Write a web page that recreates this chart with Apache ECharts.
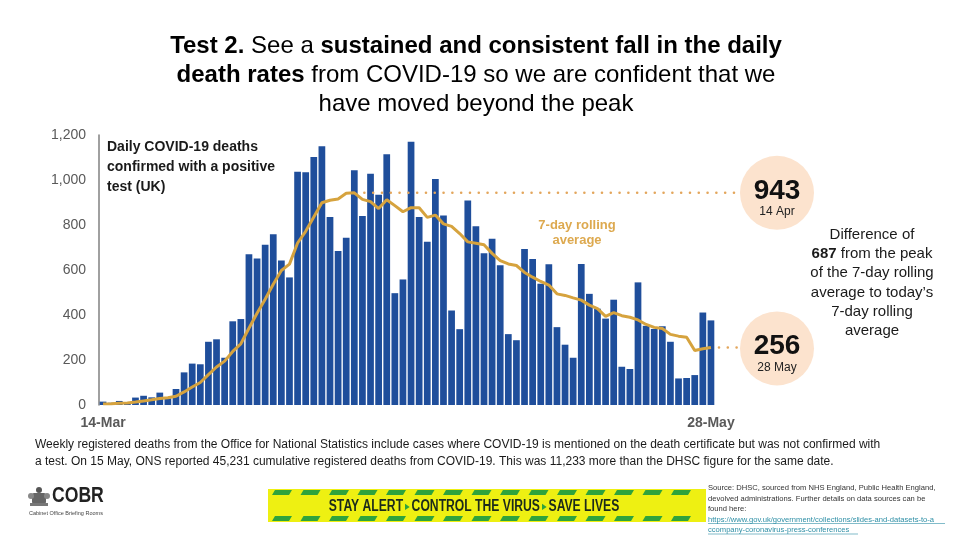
<!DOCTYPE html>
<html><head><meta charset="utf-8">
<script src="https://cdn.jsdelivr.net/npm/echarts@6/dist/echarts.min.js"></script>
<style>html,body{margin:0;padding:0;background:#fff}#c{width:960px;height:540px}</style>
</head><body><div id="c"></div>
<script>
const dates = ['14-Mar','15-Mar','16-Mar','17-Mar','18-Mar','19-Mar','20-Mar','21-Mar','22-Mar','23-Mar','24-Mar','25-Mar','26-Mar','27-Mar','28-Mar','29-Mar','30-Mar','31-Mar',
'1-Apr','2-Apr','3-Apr','4-Apr','5-Apr','6-Apr','7-Apr','8-Apr','9-Apr','10-Apr','11-Apr','12-Apr','13-Apr','14-Apr','15-Apr','16-Apr','17-Apr','18-Apr','19-Apr','20-Apr','21-Apr','22-Apr','23-Apr','24-Apr','25-Apr','26-Apr','27-Apr','28-Apr','29-Apr','30-Apr',
'1-May','2-May','3-May','4-May','5-May','6-May','7-May','8-May','9-May','10-May','11-May','12-May','13-May','14-May','15-May','16-May','17-May','18-May','19-May','20-May','21-May','22-May','23-May','24-May','25-May','26-May','27-May','28-May'];
const dailyDeaths = [15,10,18,10,33,41,34,55,30,71,145,184,181,281,292,210,372,382,
670,651,712,759,642,567,1037,1034,1102,1150,836,685,743,1043,840,1028,934,1114,497,558,1170,836,726,1004,842,420,337,909,795,674,
739,621,315,288,693,649,539,626,346,268,210,627,494,428,384,468,170,160,545,352,338,350,281,118,120,133,411,376];
const rollingAvg = [5,6,8,9,13,18,23,29,32,39,58,80,100,135,169,195,238,272,
341,408,470,537,598,626,720,772,836,899,910,916,941,943,914,904,873,912,886,859,877,877,834,844,805,794,762,725,719,712,
674,642,627,620,589,568,549,533,494,487,476,466,444,428,394,411,397,390,378,358,345,340,314,306,301,242,250,256];
const xTickLabels = ['14-Mar','28-May'];
const peakDate = '14-Apr', peakLabel = '14 Apr', latestLabel = '28 May';
const difference = 687;

const BLUE = '#1F4E9B', GOLD = '#D6A33E', DOT = '#E3A65C', PEACH = '#FCE3CE';
const chart = echarts.init(document.getElementById('c'), null, {renderer:'canvas'});
chart.setOption({
  animation:false,
  backgroundColor:'#fff',
  textStyle:{fontFamily:'Liberation Sans, Arial, sans-serif'},
  grid:{left:99, right:245, top:135, bottom:135, containLabel:false},
  xAxis:{type:'category', data:dates, boundaryGap:true,
    axisLine:{show:false}, axisTick:{show:false},
    axisLabel:{interval:0, margin:11, fontSize:14, fontWeight:'bold', color:'#595959',
      formatter:v => xTickLabels.includes(v) ? v : ''}},
  yAxis:{type:'value', min:0, max:1200, interval:200,
    axisLine:{show:true, lineStyle:{color:'#808080', width:1.5}}, axisTick:{show:false},
    splitLine:{show:false},
    axisLabel:{margin:13, fontSize:14, color:'#595959',
      formatter:v => v.toLocaleString('en-GB')}},
  series:[
    {type:'bar', data:dailyDeaths, barCategoryGap:'17%', itemStyle:{color:BLUE}, z:2},
    {type:'line', data:rollingAvg, symbol:'none', smooth:false, z:3,
     lineStyle:{color:GOLD, width:3}}
  ]
});

const pi = dates.indexOf(peakDate), li = dates.length - 1;
const pk = chart.convertToPixel({seriesIndex:1}, [pi, rollingAvg[pi]]);
const lt = chart.convertToPixel({seriesIndex:1}, [li, rollingAvg[li]]);
const CX = 777, R = 37;

const g = [];
// title
g.push({type:'text', x:476, y:32, style:{
  text:'{b|Test 2.} See a {b|sustained and consistent fall in the daily}\n{b|death rates} from COVID-19 so we are confident that we\nhave moved beyond the peak',
  align:'center', fill:'#000', font:'24px "Liberation Sans", Arial, sans-serif', lineHeight:29,
  rich:{b:{fontWeight:'bold', fontSize:24, fontFamily:'Liberation Sans', lineHeight:29, fill:'#000'}}}});
// chart annotation
g.push({type:'text', x:107, y:137, style:{text:'Daily COVID-19 deaths\nconfirmed with a positive\ntest (UK)',
  font:'bold 14px "Liberation Sans", Arial', lineHeight:20, fill:'#1a1a1a'}});
g.push({type:'text', x:577, y:218, style:{text:'7-day rolling\naverage', align:'center',
  font:'bold 13px "Liberation Sans", Arial', lineHeight:15, fill:'#DDA94F'}});
// dotted leaders
g.push({type:'line', shape:{x1:pk[0]+10, y1:pk[1], x2:CX-R-2, y2:pk[1]},
  style:{stroke:DOT, lineWidth:2.5, lineDash:[0.1,8.7], lineCap:'round'}, z:10});
g.push({type:'line', shape:{x1:lt[0]+8, y1:lt[1], x2:CX-R-2, y2:lt[1]},
  style:{stroke:DOT, lineWidth:2.5, lineDash:[0.1,8.7], lineCap:'round'}, z:10});
// circles
[[pk[1], String(rollingAvg[pi]), peakLabel],[lt[1]+1, String(rollingAvg[li]), latestLabel]].forEach(([cy,num,lab])=>{
  g.push({type:'circle', shape:{cx:CX, cy:cy, r:R}, style:{fill:PEACH}, z:10});
  g.push({type:'text', x:CX, y:cy-2, style:{text:num, align:'center', verticalAlign:'middle',
    font:'bold 28px "Liberation Sans", Arial', fill:'#111'}, z:11});
  g.push({type:'text', x:CX, y:cy+19, style:{text:lab, align:'center', verticalAlign:'middle',
    font:'12px "Liberation Sans", Arial', fill:'#222'}, z:11});
});
// right text
g.push({type:'text', x:872, y:225, style:{
  text:'Difference of\n{b|'+difference+'} from the peak\nof the 7-day rolling\naverage to today\u2019s\n7-day rolling\naverage',
  align:'center', font:'15px "Liberation Sans", Arial', lineHeight:19.3, fill:'#1a1a1a',
  rich:{b:{fontWeight:'bold', fontSize:15, fontFamily:'Liberation Sans', lineHeight:19.3, fill:'#1a1a1a'}}}});
// footnote
g.push({type:'text', x:35, y:436, style:{
  text:'Weekly registered deaths from the Office for National Statistics include cases where COVID-19 is mentioned on the death certificate but was not confirmed with\na test. On 15 May, ONS reported 45,231 cumulative registered deaths from COVID-19. This was 11,233 more than the DHSC figure for the same date.',
  font:'12px "Liberation Sans", Arial', lineHeight:17, fill:'#1a1a1a'}});
// COBR logo
g.push({type:'group', x:39, y:496, children:[
  {type:'circle', shape:{cx:0, cy:-6, r:3}, style:{fill:'#555'}},
  {type:'rect', shape:{x:-7, y:-3, width:14, height:11, r:2}, style:{fill:'#666'}},
  {type:'circle', shape:{cx:-8, cy:0, r:3}, style:{fill:'#888'}},
  {type:'circle', shape:{cx:8, cy:0, r:3}, style:{fill:'#888'}},
  {type:'rect', shape:{x:-9, y:7, width:18, height:3}, style:{fill:'#777'}}
]});
g.push({type:'text', x:52, y:485, scaleX:0.8, style:{text:'COBR', font:'bold 22px "Liberation Sans", Arial', fill:'#222'}});
g.push({type:'text', x:29, y:510, style:{text:'Cabinet Office Briefing Rooms', font:'5.5px "Liberation Sans", Arial', fill:'#444'}});
// banner
const bx=268, by=489, bw=438, bh=33;
g.push({type:'rect', shape:{x:bx, y:by, width:bw, height:bh}, style:{fill:'#EEF012'}});
for (let x=bx+4; x+20<=bx+bw-2; x+=28.5) {
  g.push({type:'polygon', shape:{points:[[x+3,by+1],[x+20,by+1],[x+17,by+6],[x,by+6]]}, style:{fill:'#2FA33C'}});
  g.push({type:'polygon', shape:{points:[[x+3,by+bh-6],[x+20,by+bh-6],[x+17,by+bh-1],[x,by+bh-1]]}, style:{fill:'#2FA33C'}});
}
g.push({type:'text', x:bx+bw/2-13, y:by+bh/2+1, scaleX:0.76, style:{
  text:'{t|STAY ALERT}{a| \u25B6 }{t|CONTROL THE VIRUS}{a| \u25B6 }{t|SAVE LIVES}',
  align:'center', verticalAlign:'middle',
  rich:{t:{fontFamily:'"Liberation Sans", Arial', fontWeight:'bold', fontSize:16, fill:'#1B2A1B'},
        a:{fontFamily:'"DejaVu Sans", Arial', fontSize:8, fill:'#2FA33C'}}}});
// source
g.push({type:'text', x:708, y:483, style:{
  text:'Source: DHSC, sourced from NHS England, Public Health England,\ndevolved administrations. Further details on data sources can be\nfound here:',
  font:'7.6px "Liberation Sans", Arial', lineHeight:10.5, fill:'#333'}});
g.push({type:'text', x:708, y:514.5, style:{
  text:'https://www.gov.uk/government/collections/slides-and-datasets-to-a\nccompany-coronavirus-press-conferences',
  font:'7.6px "Liberation Sans", Arial', lineHeight:10.5, fill:'#2E8FA6'}});
g.push({type:'line', shape:{x1:708, y1:523.5, x2:945, y2:523.5}, style:{stroke:'#2E8FA6', lineWidth:0.6}});
g.push({type:'line', shape:{x1:708, y1:534, x2:858, y2:534}, style:{stroke:'#2E8FA6', lineWidth:0.6}});

chart.setOption({graphic:g});
</script></body></html>
